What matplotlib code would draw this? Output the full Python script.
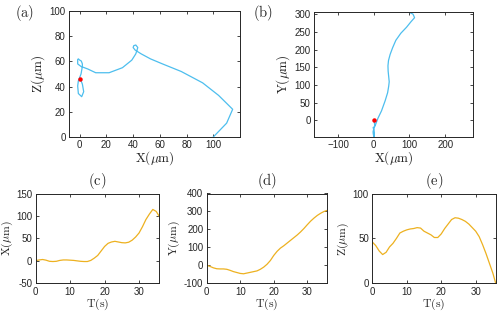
import numpy as np
import matplotlib
matplotlib.use("Agg")
import matplotlib.pyplot as plt

plt.rcParams['mathtext.fontset'] = 'cm'
plt.rcParams['font.family'] = ['Liberation Sans', 'DejaVu Sans']

# time samples (s) and trajectory coordinates (um)
T = [0, 1, 2, 3, 4, 5, 6, 7, 8, 9, 10, 11, 12, 13, 14, 15, 16, 17, 18, 19,
     20, 21, 22, 23, 24, 25, 26, 27, 28, 29, 30, 31, 32, 33, 34, 35, 35.8]
X = [0.5, 2, 3, 1.5, -1, -1.5, -1, 1, 2, 2, 1.5, 1, 0, -1, -1.5, -1.5, 1, 6,
     12, 22, 32, 39, 42, 43.5, 42, 40.5, 40, 41.5, 46, 53, 62, 76, 92, 104,
     114.5, 110, 100]
Y = [0, -6, -14, -19, -20, -20, -22, -28, -35, -40, -45, -47, -43, -39, -35,
     -31, -22, -10, 6, 27, 55, 78, 96, 109, 124, 139, 154, 169, 186, 205, 226,
     246, 263, 278, 290, 300, 305]
Z = [46, 42, 36, 32, 34.5, 40.5, 44.5, 50, 56, 58, 59.5, 60.5, 61, 62, 61.5,
     58, 56, 54, 51, 51, 55, 61, 66, 71, 73, 72.5, 71, 69, 66, 62, 58, 52, 43,
     33, 22, 11, 0]

blue = '#4DBEEE'
orange = '#EDB120'
dark = '#262626'

W, H = 503, 312
fig = plt.figure(figsize=(W / 100, H / 100), dpi=100)


def add_ax(l, r, t, b):
    return fig.add_axes([l / W, 1 - b / H, (r - l) / W, (b - t) / H])


def style(ax):
    ax.tick_params(direction='in', length=2.5, width=0.6, labelsize=7,
                   colors=dark, top=True, right=True, pad=2.5)
    for s in ax.spines.values():
        s.set_color(dark)
        s.set_linewidth(0.7)


lab = dict(fontsize=9.5, color=dark)

# (a) X-Z projection
ax = add_ax(69, 240, 11, 137)
ax.plot(X, Z, color=blue, lw=0.9)
ax.plot(X[0], Z[0], 'o', color='red', ms=2.2)
ax.set_xlim(-8, 120)
ax.set_ylim(0, 100)
ax.set_xticks([0, 20, 40, 60, 80, 100])
ax.set_yticks([0, 20, 40, 60, 80, 100])
ax.set_xlabel(r'$\mathrm{X(\mu m)}$', labelpad=-1, **lab)
ax.set_ylabel(r'$\mathrm{Z(\mu m)}$', labelpad=2, **lab)
style(ax)
fig.text(25 / W, 1 - 13 / H, r'$\mathrm{(a)}$', fontsize=10.5, ha='center',
         va='center', color=dark)

# (b) X-Y projection
ax = add_ax(314, 473, 12, 137)
ax.plot(X, Y, color=blue, lw=0.9)
ax.plot(X[0], Y[0], 'o', color='red', ms=2.2)
ax.set_xlim(-167, 278)
ax.set_ylim(-47, 306)
ax.set_xticks([-100, 0, 100, 200])
ax.set_yticks([0, 50, 100, 150, 200, 250, 300])
ax.set_xlabel(r'$\mathrm{X(\mu m)}$', labelpad=-1, **lab)
ax.set_ylabel(r'$\mathrm{Y(\mu m)}$', labelpad=2, **lab)
style(ax)
fig.text(263 / W, 1 - 13 / H, r'$\mathrm{(b)}$', fontsize=10.5, ha='center',
         va='center', color=dark)

# (c)-(e) coordinates against time
series = [(X, 'X', (-50, 150), [-50, 0, 50, 100, 150], 35.7, 159, '(c)'),
          (Y, 'Y', (-100, 400), [-100, 0, 100, 200, 300, 400], 206.7, 326.7, '(d)'),
          (Z, 'Z', (0, 100), [0, 50, 100], 372.3, 495.7, '(e)')]
for vals, name, ylim, yt, l, r, tag in series:
    ax = add_ax(l, r, 193.5, 283.3)
    ax.plot(T, vals, color=orange, lw=0.9)
    ax.set_xlim(0, T[-1])
    ax.set_ylim(*ylim)
    ax.set_xticks([0, 10, 20, 30])
    ax.set_yticks(yt)
    ax.set_yticklabels([str(v) for v in yt])
    ax.set_xlabel(r'$\mathrm{T(s)}$', labelpad=0, fontsize=8.5, color=dark)
    ax.set_ylabel(r'$\mathrm{%s(\mu m)}$' % name, labelpad=1, fontsize=8.5,
                  color=dark)
    ax.set_title(r'$\mathrm{%s}$' % tag, fontsize=10.5, color=dark, pad=6)
    style(ax)

fig.savefig('out.png', dpi=100)
